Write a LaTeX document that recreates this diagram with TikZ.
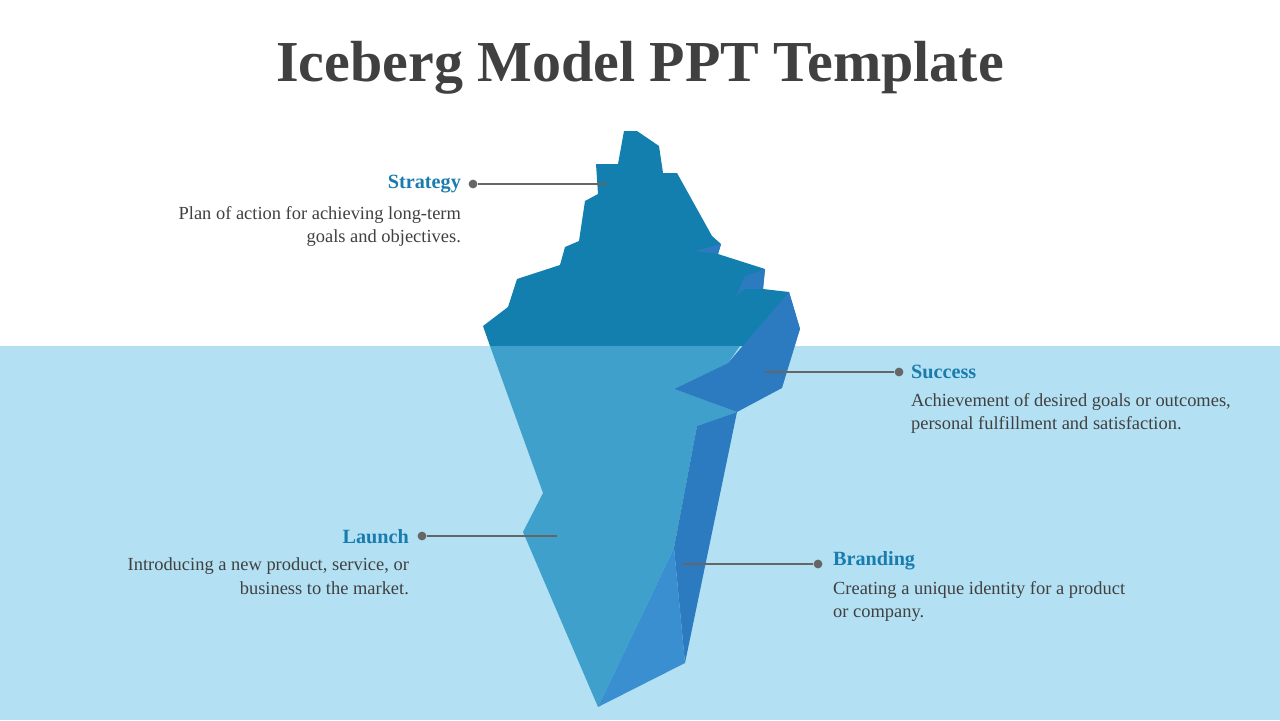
\documentclass[tikz,border=0pt]{standalone}
\usepackage{fontspec}
\setmainfont{Liberation Serif}
\usetikzlibrary{positioning}
\definecolor{icetop}{HTML}{127FAE}
\definecolor{icebody}{HTML}{3FA0CC}
\definecolor{iceside}{HTML}{2C7BC0}
\definecolor{icelow}{HTML}{3A8FD0}
\definecolor{water}{HTML}{B3E1F3}
\definecolor{headblue}{HTML}{1A7CAE}
\definecolor{txtgray}{HTML}{404040}
\definecolor{linegray}{HTML}{666666}
\begin{document}
\begin{tikzpicture}[x=0.02cm,y=-0.02cm,
head/.style={font=\bfseries\fontsize{11.5}{13}\selectfont, text=headblue, inner sep=1pt},
desc/.style={font=\fontsize{10.5}{13.5}\selectfont, text=txtgray, inner sep=1pt},
pin/.style={draw=linegray, line width=1pt},
dot/.style={circle, fill=linegray, inner sep=0pt, minimum size=5pt}]

\useasboundingbox (0,0) rectangle (1280,720);
\fill[water] (0,346) rectangle (1280,720);

% above the water
\fill[icetop] (483,326) -- (508,307) -- (517,279) -- (560,265) -- (565,247)
  -- (579,241) -- (585,201) -- (598,194) -- (596,164) -- (618,164) -- (624,131)
  -- (637,131) -- (659,146) -- (663,173) -- (677,173) -- (712,236) -- (721,244)
  -- (718,254) -- (765,269) -- (763,289) -- (789,292) -- (800,329) -- (790,346)
  -- (490,346) -- cycle;
\fill[iceside] (695,251) -- (721,244) -- (718,254) -- cycle;
\fill[iceside] (765,269) -- (763,289) -- (745,289) -- (736,296) -- (745,276) -- cycle;
% below the water
\fill[icebody] (490,346) -- (740,346) -- (728,363) -- (674,389) -- (737,412)
  -- (697,426) -- (674,548) -- (598,707) -- (523,532) -- (543,493) -- cycle;
\fill[iceside] (789,292) -- (800,329) -- (782,388) -- (737,412) -- (674,389)
  -- (728,363) -- cycle;
\fill[iceside] (737,412) -- (685,663) -- (674,548) -- (697,426) -- cycle;
\fill[icelow] (674,548) -- (685,663) -- (598,707) -- cycle;

\node[font=\bfseries\fontsize{33}{38}\selectfont, text=txtgray] (title) at (640,68) {Iceberg Model PPT Template};

% labels
\coordinate (strategyend) at (607,184);
\node[dot] (strategydot) at (473,184) {};
\node[head, anchor=east] (strategy) at (463,184) {Strategy};
\node[desc, anchor=north east, align=right] (strategytext) at (463,204) {Plan of action for achieving long-term\\goals and objectives.};
\draw[pin] (strategydot) -- (strategyend);

\coordinate (successend) at (765,372);
\node[dot] (successdot) at (899,372) {};
\node[head, anchor=west] (success) at (909,372) {Success};
\node[desc, anchor=north west, align=left] (successtext) at (909,391) {Achievement of desired goals or outcomes,\\personal fulfillment and satisfaction.};
\draw[pin] (successdot) -- (successend);

\coordinate (launchend) at (557,536);
\node[dot] (launchdot) at (422,536) {};
\node[head, anchor=east] (launch) at (411,537) {Launch};
\node[desc, anchor=north east, align=right] (launchtext) at (411,556) {Introducing a new product, service, or\\business to the market.};
\draw[pin] (launchdot) -- (launchend);

\coordinate (brandingend) at (683,564);
\node[dot] (brandingdot) at (818,564) {};
\node[head, anchor=west] (branding) at (831,561) {Branding};
\node[desc, anchor=north west, align=left] (brandingtext) at (831,579) {Creating a unique identity for a product\\or company.};
\draw[pin] (brandingdot) -- (brandingend);
\end{tikzpicture}
\end{document}
